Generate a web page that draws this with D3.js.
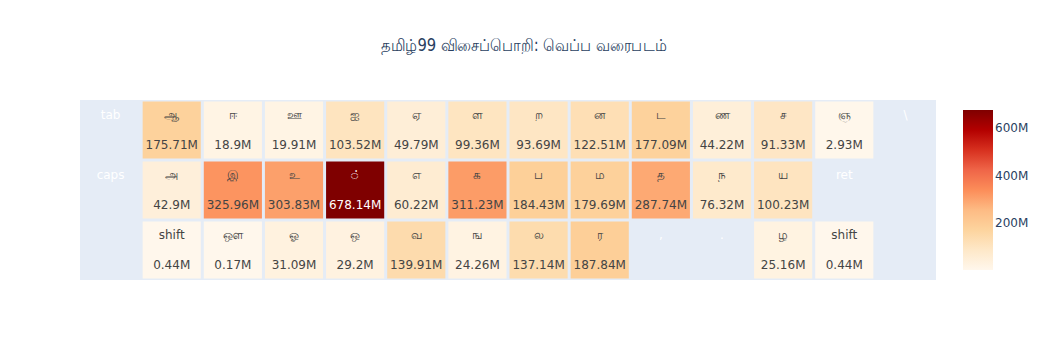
<!DOCTYPE html>
<html>
<head>
<meta charset="utf-8">
<script src="https://cdn.jsdelivr.net/npm/d3@7"></script>
<style>
  body { margin: 0; background: #fff; }
  text { font-family: Verdana, "DejaVu Sans", "Noto Sans", sans-serif; }
</style>
</head>
<body>
<div id="chart"></div>
<script>
var width = 1048;
var height = 360;

// key labels per keyboard row (empty = blank slot)
var row1Keys = ["tab", "ஆ", "ஈ", "ஊ", "ஐ", "ஏ", "ள", "ற", "ன", "ட", "ண", "ச", "ஞ", "\\"];
var row2Keys = ["caps", "அ", "இ", "உ", "்", "எ", "க", "ப", "ம", "த", "ந", "ய", "ret", ""];
var row3Keys = ["", "shift", "ஔ", "ஓ", "ஒ", "வ", "ங", "ல", "ர", ",", ".", "ழ", "shift", ""];

// key press counts in millions (null = no data)
var row1Values = [null, 175.71, 18.9, 19.91, 103.52, 49.79, 99.36, 93.69, 122.51, 177.09, 44.22, 91.33, 2.93, null];
var row2Values = [null, 42.9, 325.96, 303.83, 678.14, 60.22, 311.23, 184.43, 179.69, 287.74, 76.32, 100.23, null, null];
var row3Values = [null, 0.44, 0.17, 31.09, 29.2, 139.91, 24.26, 137.14, 187.84, null, null, 25.16, 0.44, null];

var colorbarTicks = [200, 400, 600];

var titleText = "தமிழ்99 விசைப்பொறி: வெப்ப வரைபடம்";

var keys = [row1Keys, row2Keys, row3Keys];
var values = [row1Values, row2Values, row3Values];

var cells = [];
keys.forEach(function(row, r) {
  row.forEach(function(k, c) {
    cells.push({row: r, col: c, key: k, value: values[r][c]});
  });
});

var plot = {left: 80, right: 936, top: 100, bottom: 280};
var gap = 3;

var x = d3.scaleBand()
  .domain(d3.range(row1Keys.length))
  .range([plot.left, plot.right]);

var y = d3.scaleBand()
  .domain(d3.range(keys.length))
  .range([plot.top, plot.bottom]);

var allVals = cells.filter(function(d) { return d.value != null; }).map(function(d) { return d.value; });
var zmin = d3.min(allVals);
var zmax = d3.max(allVals);

// plotly OrRd
var orrd = ["rgb(255,247,236)", "rgb(254,232,200)", "rgb(253,212,158)", "rgb(253,187,132)",
            "rgb(252,141,89)", "rgb(239,101,72)", "rgb(215,48,31)", "rgb(179,0,0)", "rgb(127,0,0)"];
var color = d3.scaleLinear()
  .domain(orrd.map(function(c, i) { return zmin + (zmax - zmin) * i / (orrd.length - 1); }))
  .range(orrd)
  .interpolate(d3.interpolateRgb);

var svg = d3.select("#chart")
  .append("svg")
  .attr("width", width)
  .attr("height", height);

svg.append("text")
  .attr("x", width / 2)
  .attr("y", 51)
  .attr("text-anchor", "middle")
  .attr("textLength", 286)
  .attr("lengthAdjust", "spacingAndGlyphs")
  .style("font-size", "17px")
  .style("fill", "#2a3f5f")
  .text(titleText);

svg.append("rect")
  .attr("x", plot.left)
  .attr("y", plot.top)
  .attr("width", plot.right - plot.left)
  .attr("height", plot.bottom - plot.top)
  .style("fill", "#E5ECF6");

var g = svg.selectAll("g.cell")
  .data(cells)
  .enter()
  .append("g")
  .attr("class", "cell");

g.filter(function(d) { return d.value != null; })
  .append("rect")
  .attr("x", function(d) { return x(d.col) + gap / 2; })
  .attr("y", function(d) { return y(d.row) + gap / 2; })
  .attr("width", x.bandwidth() - gap)
  .attr("height", y.bandwidth() - gap)
  .style("fill", function(d) { return color(d.value); });

function textColor(d) {
  if (d.value == null) return "#fff";
  var c = d3.hsl(color(d.value));
  return c.l < 0.5 ? "#fff" : "#444";
}

g.append("text")
  .attr("x", function(d) { return x(d.col) + x.bandwidth() / 2; })
  .attr("y", function(d) { return y(d.row) + y.bandwidth() / 2 - 15; })
  .attr("text-anchor", "middle")
  .attr("dominant-baseline", "central")
  .style("font-size", "12px")
  .style("fill", textColor)
  .text(function(d) { return d.key; });

g.filter(function(d) { return d.value != null; })
  .append("text")
  .attr("x", function(d) { return x(d.col) + x.bandwidth() / 2; })
  .attr("y", function(d) { return y(d.row) + y.bandwidth() / 2 + 15; })
  .attr("text-anchor", "middle")
  .attr("dominant-baseline", "central")
  .style("font-size", "12px")
  .style("fill", textColor)
  .text(function(d) { return d.value + "M"; });

// colorbar
var cb = {x: 963, w: 30, top: 110, bottom: 270};
var defs = svg.append("defs");
var grad = defs.append("linearGradient")
  .attr("id", "cbgrad")
  .attr("x1", 0).attr("y1", 1).attr("x2", 0).attr("y2", 0);
grad.selectAll("stop")
  .data(orrd)
  .enter()
  .append("stop")
  .attr("offset", function(d, i) { return i / (orrd.length - 1); })
  .attr("stop-color", function(d) { return d; });

svg.append("rect")
  .attr("x", cb.x)
  .attr("y", cb.top)
  .attr("width", cb.w)
  .attr("height", cb.bottom - cb.top)
  .style("fill", "url(#cbgrad)");

var cbScale = d3.scaleLinear()
  .domain([zmin, zmax])
  .range([cb.bottom, cb.top]);

svg.selectAll("text.cbtick")
  .data(colorbarTicks)
  .enter()
  .append("text")
  .attr("class", "cbtick")
  .attr("x", cb.x + cb.w + 2)
  .attr("y", function(d) { return cbScale(d); })
  .attr("dominant-baseline", "central")
  .style("font-size", "12px")
  .style("fill", "#2a3f5f")
  .text(function(d) { return d + "M"; });
</script>
</body>
</html>
